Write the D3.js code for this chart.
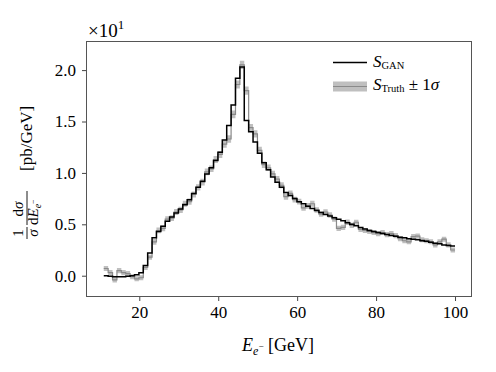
<!DOCTYPE html>
<html>
<head>
<meta charset="utf-8">
<script src="https://cdn.jsdelivr.net/npm/d3@7"></script>
<style>
  html, body { margin: 0; padding: 0; background: #fff; }
  svg text { font-family: "Liberation Serif", "DejaVu Serif", serif; fill: #000; }
</style>
</head>
<body>
<svg id="chart" width="496" height="372"></svg>
<script>
// ── Data (values shown in units of 10^1 pb/GeV) ──
var binStart = 11, binEnd = 100, binCount = 80;

var ganValues = [
  0.00, -0.005, -0.01, -0.01, -0.01, -0.005, 0.00, 0.01, 0.03, 0.10,
  0.22, 0.37, 0.43, 0.48, 0.53, 0.57, 0.61, 0.65, 0.69, 0.74,
  0.80, 0.86, 0.92, 0.99, 1.05, 1.12, 1.20, 1.32, 1.46, 1.66,
  1.92, 2.03, 1.51, 1.40, 1.30, 1.19, 1.10, 1.03, 0.96, 0.91,
  0.86, 0.81, 0.78, 0.75, 0.72, 0.70, 0.675, 0.655, 0.635, 0.615,
  0.595, 0.58, 0.565, 0.55, 0.535, 0.515, 0.50, 0.485, 0.47, 0.455,
  0.44, 0.43, 0.42, 0.41, 0.40, 0.39, 0.385, 0.375, 0.37, 0.36,
  0.355, 0.35, 0.34, 0.335, 0.325, 0.315, 0.31, 0.30, 0.295, 0.29
];

var truthValues = [
  0.07, 0.03, -0.04, 0.05, 0.03, 0.02, -0.01, -0.03, -0.02, 0.08,
  0.18, 0.33, 0.44, 0.46, 0.55, 0.56, 0.62, 0.64, 0.70, 0.72,
  0.79, 0.86, 0.91, 1.01, 1.04, 1.13, 1.18, 1.28, 1.33, 1.57,
  1.86, 2.05, 1.80, 1.44, 1.38, 1.22, 1.08, 1.05, 0.99, 0.94,
  0.88, 0.77, 0.80, 0.74, 0.72, 0.66, 0.68, 0.70, 0.64, 0.60,
  0.62, 0.59, 0.55, 0.46, 0.47, 0.52, 0.49, 0.52, 0.45, 0.44,
  0.43, 0.42, 0.41, 0.42, 0.40, 0.41, 0.39, 0.36, 0.34, 0.33,
  0.38, 0.385, 0.35, 0.34, 0.33, 0.30, 0.33, 0.355, 0.30, 0.25
];

var truthSigma = [
  0.025, 0.025, 0.025, 0.025, 0.025, 0.025, 0.025, 0.025, 0.025, 0.025,
  0.025, 0.028, 0.028, 0.028, 0.028, 0.028, 0.03, 0.03, 0.03, 0.03,
  0.03, 0.03, 0.032, 0.032, 0.032, 0.034, 0.034, 0.035, 0.036, 0.038,
  0.04, 0.04, 0.04, 0.036, 0.035, 0.034, 0.032, 0.032, 0.03, 0.03,
  0.03, 0.03, 0.03, 0.028, 0.028, 0.028, 0.028, 0.028, 0.027, 0.027,
  0.027, 0.027, 0.026, 0.026, 0.026, 0.026, 0.025, 0.025, 0.025, 0.025,
  0.025, 0.025, 0.025, 0.025, 0.025, 0.025, 0.025, 0.025, 0.025, 0.025,
  0.025, 0.025, 0.025, 0.025, 0.025, 0.025, 0.025, 0.025, 0.025, 0.025
];

var xTicks = [20, 40, 60, 80, 100];
var yTicks = [0.0, 0.5, 1.0, 1.5, 2.0];
var yTickLabels = ['0.0', '0.5', '1.0', '1.5', '2.0'];

(function () {
  'use strict';

  var svg = d3.select('#chart');
  var left = 86, right = 472, top = 41, bottom = 297;

  var x = d3.scaleLinear().domain([6.5, 104.3]).range([left, right]);
  var y = d3.scaleLinear().domain([-0.207, 2.283]).range([bottom, top]);

  var binWidth = (binEnd - binStart) / binCount;
  var edges = d3.range(binCount + 1).map(function (i) { return binStart + i * binWidth; });

  // step points: one per left edge, plus the closing right edge
  var pts = ganValues.map(function (v, i) { return { x: edges[i], i: i }; });
  pts.push({ x: edges[binCount], i: binCount - 1 });

  svg.append('defs').append('clipPath').attr('id', 'plotClip')
    .append('rect').attr('x', left).attr('y', top).attr('width', right - left).attr('height', bottom - top);

  var plot = svg.append('g').attr('clip-path', 'url(#plotClip)');

  // Truth ± 1σ band
  var band = d3.area().curve(d3.curveStepAfter)
    .x(function (d) { return x(d.x); })
    .y0(function (d) { return y(truthValues[d.i] - truthSigma[d.i]); })
    .y1(function (d) { return y(truthValues[d.i] + truthSigma[d.i]); });
  plot.append('path').attr('d', band(pts))
    .attr('fill', '#808080').attr('fill-opacity', 0.5).attr('stroke', 'none');

  var truthLine = d3.line().curve(d3.curveStepAfter)
    .x(function (d) { return x(d.x); })
    .y(function (d) { return y(truthValues[d.i]); });
  plot.append('path').attr('d', truthLine(pts))
    .attr('fill', 'none').attr('stroke', '#8a8a8a').attr('stroke-width', 1.2);

  var ganLine = d3.line().curve(d3.curveStepAfter)
    .x(function (d) { return x(d.x); })
    .y(function (d) { return y(ganValues[d.i]); });
  plot.append('path').attr('d', ganLine(pts))
    .attr('fill', 'none').attr('stroke', '#000').attr('stroke-width', 1.5);

  // ── Axes ──
  var xAxis = d3.axisBottom(x).tickValues(xTicks).tickSize(4).tickPadding(5)
    .tickFormat(d3.format('d'));
  var gx = svg.append('g').attr('transform', 'translate(0,' + bottom + ')').call(xAxis);
  gx.select('.domain').remove();
  gx.selectAll('.tick line').attr('stroke', '#444');
  gx.selectAll('.tick text').attr('font-size', 17)
    .style('font-family', '"Liberation Serif", serif').attr('fill', '#222');

  var yAxis = d3.axisLeft(y).tickValues(yTicks).tickSize(4).tickPadding(6)
    .tickFormat(function (d, i) { return yTickLabels[i]; });
  var gy = svg.append('g').attr('transform', 'translate(' + left + ',0)').call(yAxis);
  gy.select('.domain').remove();
  gy.selectAll('.tick line').attr('stroke', '#444');
  gy.selectAll('.tick text').attr('font-size', 17)
    .style('font-family', '"Liberation Serif", serif').attr('fill', '#222');

  svg.append('rect').attr('x', left + 0.5).attr('y', top + 0.5)
    .attr('width', right - left - 1).attr('height', bottom - top - 1)
    .attr('fill', 'none').attr('stroke', '#555').attr('stroke-width', 1);

  // offset ×10^1
  var off = svg.append('text').attr('x', 88).attr('y', 37).attr('font-size', 19).attr('fill', '#222');
  off.append('tspan').text('×10');
  off.append('tspan').attr('font-size', 13).attr('dy', -8).text('1');

  // ── x label ──
  var xl = svg.append('text').attr('x', 278).attr('y', 351).attr('text-anchor', 'middle').attr('font-size', 18);
  xl.append('tspan').attr('font-style', 'italic').text('E');
  xl.append('tspan').attr('font-style', 'italic').attr('font-size', 12).attr('dy', 4).text('e');
  xl.append('tspan').attr('font-size', 9).attr('dy', -6).text('−');
  xl.append('tspan').attr('dy', 2).text(' [GeV]');

  // ── y label (rotated) ──
  var yl = svg.append('g').attr('transform', 'translate(27,172) rotate(-90)');
  // 1 / σ
  yl.append('text').attr('x', -61).attr('y', -4).attr('text-anchor', 'middle').attr('font-size', 15).text('1');
  yl.append('line').attr('x1', -67).attr('x2', -55).attr('y1', 0).attr('y2', 0).attr('stroke', '#000').attr('stroke-width', 0.9);
  yl.append('text').attr('x', -61).attr('y', 11).attr('text-anchor', 'middle').attr('font-size', 15)
    .attr('font-style', 'italic').text('σ');
  // dσ / dE_e-
  var num = yl.append('text').attr('x', -37).attr('y', -4).attr('text-anchor', 'middle').attr('font-size', 15);
  num.append('tspan').text('d');
  num.append('tspan').attr('font-style', 'italic').text('σ');
  yl.append('line').attr('x1', -53).attr('x2', -19).attr('y1', 0).attr('y2', 0).attr('stroke', '#000').attr('stroke-width', 0.9);
  var den = yl.append('text').attr('x', -53).attr('y', 11).attr('font-size', 15);
  den.append('tspan').text('d');
  den.append('tspan').attr('font-style', 'italic').text('E');
  den.append('tspan').attr('font-style', 'italic').attr('font-size', 10).attr('dy', 3).text('e');
  den.append('tspan').attr('font-size', 8).attr('dy', -5).text('−');
  yl.append('text').attr('x', 1).attr('y', 5).attr('font-size', 17).text('[pb/GeV]');

  // ── Legend ──
  var lg = svg.append('g');
  lg.append('line').attr('x1', 333).attr('x2', 367).attr('y1', 62.5).attr('y2', 62.5)
    .attr('stroke', '#000').attr('stroke-width', 1.5);
  var t1 = lg.append('text').attr('x', 373).attr('y', 67).attr('font-size', 17);
  t1.append('tspan').attr('font-style', 'italic').text('S');
  t1.append('tspan').attr('font-size', 10.5).attr('dy', 2).text('GAN');

  lg.append('rect').attr('x', 333).attr('y', 81.5).attr('width', 34).attr('height', 10)
    .attr('fill', '#808080').attr('fill-opacity', 0.5);
  lg.append('line').attr('x1', 333).attr('x2', 367).attr('y1', 86.5).attr('y2', 86.5)
    .attr('stroke', '#8a8a8a').attr('stroke-width', 1.2);
  var t2 = lg.append('text').attr('x', 373).attr('y', 90).attr('font-size', 17);
  t2.append('tspan').attr('font-style', 'italic').text('S');
  t2.append('tspan').attr('font-size', 10.5).attr('dy', 2).text('Truth');
  t2.append('tspan').attr('dy', -2).text(' ± 1');
  t2.append('tspan').attr('font-style', 'italic').text('σ');
})();
</script>
</body>
</html>
